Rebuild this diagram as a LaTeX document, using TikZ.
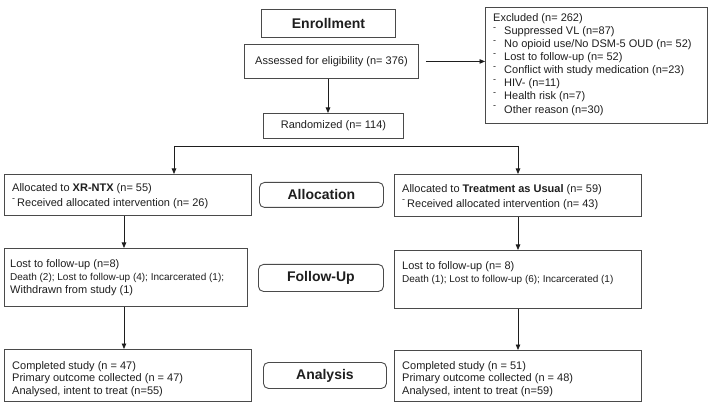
\documentclass[tikz,border=0pt]{standalone}
\usepackage{fontspec}
\setmainfont{Liberation Sans}
\usetikzlibrary{arrows.meta}
\definecolor{edge}{HTML}{4A4A4A}
\definecolor{ink}{HTML}{1E1E1E}
\newcommand{\dsh}{\raisebox{4.5pt}{\fontsize{9}{9}\selectfont -}}
\newcommand{\btext}[2]{\begin{minipage}[t]{236pt}\fontsize{11}{#1}\selectfont #2\end{minipage}}
\begin{document}
\begin{tikzpicture}[x=1pt,y=-1pt,
  box/.style={draw=edge, line width=0.9pt, inner sep=0pt, anchor=north west, text=ink},
  stage/.style={box, rounded corners=5pt, font=\fontsize{14}{16}\selectfont\bfseries},
  txt/.style={anchor=north west, inner sep=0pt, text=ink},
  arr/.style={draw=ink, line width=0.8pt, -{Triangle[length=5.5pt,width=4.5pt]}},
  con/.style={draw=ink, line width=0.8pt}]
\useasboundingbox (0,0) rectangle (709,403);

% boxes
\node[box, minimum width=134pt, minimum height=28pt, font=\fontsize{14}{16}\selectfont\bfseries] (enr) at (261,9) {Enrollment};
\node[box, minimum width=174pt, minimum height=34pt, font=\fontsize{11}{13}\selectfont] (ass) at (244,44) {Assessed for eligibility (n= 376)};
\node[box, minimum width=140pt, minimum height=25pt, font=\fontsize{11}{13}\selectfont] (ran) at (263,113) {Randomized (n= 114)};
\node[box, minimum width=222pt, minimum height=116pt] (exc) at (485,7) {};

\node[box, minimum width=247pt, minimum height=41pt] (al) at (4,174) {};
\node[box, minimum width=247pt, minimum height=42pt] (ar) at (394,174) {};
\node[box, minimum width=243pt, minimum height=58pt] (fl) at (4,248) {};
\node[box, minimum width=247pt, minimum height=58pt] (fr) at (394,250) {};
\node[box, minimum width=247pt, minimum height=52pt] (nl) at (4,349) {};
\node[box, minimum width=247pt, minimum height=51pt] (nr) at (394,350) {};

\node[stage, minimum width=124pt, minimum height=25pt] (s1) at (259,182) {Allocation};
\node[stage, minimum width=125pt, minimum height=27pt] (s2) at (258,264) {Follow-Up};
\node[stage, minimum width=123pt, minimum height=26pt] (s3) at (263,362) {Analysis};

% texts
\node[txt] (texc) at (493,13.5) {\btext{13.05}{Excluded (n= 262)\\
\dsh\hspace{8pt}Suppressed VL (n=87)\\
\dsh\hspace{8pt}No opioid use/No DSM-5 OUD (n= 52)\\
\dsh\hspace{8pt}Lost to follow-up (n= 52)\\
\dsh\hspace{8pt}Conflict with study medication (n=23)\\
\dsh\hspace{8pt}HIV- (n=11)\\
\dsh\hspace{8pt}Health risk (n=7)\\
\dsh\hspace{8pt}Other reason (n=30)}};

\node[txt] (tal) at (12,183) {\btext{15}{Allocated to \textbf{XR-NTX} (n= 55)\\
\dsh\hspace{2pt}Received allocated intervention (n= 26)}};
\node[txt] (tar) at (402,184) {\btext{15}{Allocated to \textbf{Treatment as Usual} (n= 59)\\
\dsh\hspace{2pt}Received allocated intervention (n= 43)}};

\node[txt] (tfl) at (10,259) {\btext{13.3}{Lost to follow-up (n=8)\\
{\fontsize{10}{13.3}\selectfont Death (2); Lost to follow-up (4); Incarcerated (1);}\\
Withdrawn from study (1)}};
\node[txt] (tfr) at (402,261) {\btext{13.3}{Lost to follow-up (n= 8)\\
{\fontsize{10}{13.3}\selectfont Death (1); Lost to follow-up (6); Incarcerated (1)}}};

\node[txt] (tnl) at (12,361) {\btext{12.7}{Completed study (n = 47)\\
Primary outcome collected (n = 47)\\
Analysed, intent to treat (n=55)}};
\node[txt] (tnr) at (402,361) {\btext{12.7}{Completed study (n = 51)\\
Primary outcome collected (n = 48)\\
Analysed, intent to treat (n=59)}};

% connectors
\coordinate (sl) at (174,146);
\coordinate (sr) at (518,146);
\coordinate (cl) at (124,0);
\coordinate (cr) at (518,0);
\coordinate (ax) at (328,0);

\draw[arr, shorten <=7pt] (ass.east) -- (exc.west |- ass.east);
\draw[arr] (ass.south -| ax) -- (ran.north -| ax);
\draw[con] (sl) -- (sr);
\draw[arr] (sl) -- (sl |- al.north);
\draw[arr] (sr) -- (sr |- ar.north);
\draw[arr] (al.south -| cl) -- (fl.north -| cl);
\draw[arr] (fl.south -| cl) -- (nl.north -| cl);
\draw[arr] (ar.south -| cr) -- (fr.north -| cr);
\draw[arr] (fr.south -| cr) -- (nr.north -| cr);
\end{tikzpicture}
\end{document}
